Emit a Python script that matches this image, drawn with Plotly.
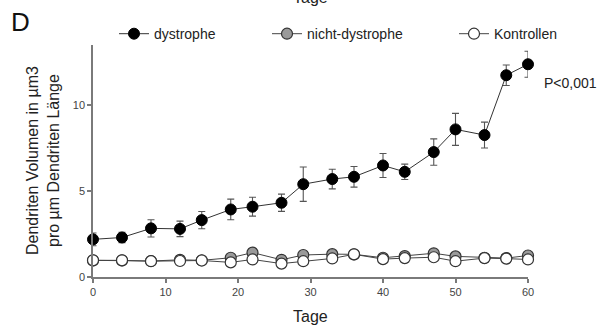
import plotly.graph_objects as go

# Days of measurement
tage = [0, 4, 8, 12, 15, 19, 22, 26, 29, 33, 36, 40, 43, 47, 50, 54, 57, 60]

# Dendrite volume per dendrite length (µm3 / µm)
dystrophe = [2.19, 2.30, 2.83, 2.80, 3.31, 3.93, 4.09, 4.32, 5.40, 5.70,
             5.83, 6.49, 6.12, 7.27, 8.59, 8.26, 11.74, 12.38]
dystrophe_err = [0.37, 0.30, 0.50, 0.45, 0.50, 0.60, 0.55, 0.50, 1.00, 0.57,
                 0.60, 0.70, 0.45, 0.77, 0.93, 0.75, 0.60, 0.76]
nicht_dystrophe = [0.97, 0.97, 0.93, 1.00, 0.97, 1.12, 1.42, 1.00, 1.28, 1.33,
                   1.32, 1.12, 1.22, 1.38, 1.20, 1.12, 1.10, 1.25]
kontrollen = [0.97, 0.97, 0.92, 0.93, 0.96, 0.85, 1.02, 0.78, 0.92, 1.08,
              1.32, 1.04, 1.10, 1.15, 0.92, 1.10, 1.07, 1.02]

x_ticks = [0, 10, 20, 30, 40, 50, 60]
y_ticks = [0, 5, 10]

FONT = "Liberation Sans, Arial, sans-serif"
AXIS_COLOR = "#7a7a7a"

fig = go.Figure()

fig.add_trace(go.Scatter(
    x=tage, y=nicht_dystrophe, name="nicht-dystrophe", mode="lines+markers",
    line=dict(color="#444444", width=1),
    marker=dict(size=11, color="#9a9a9a", line=dict(color="#333333", width=1.2)),
    cliponaxis=False, legend="legend2", showlegend=True,
))
fig.add_trace(go.Scatter(
    x=tage, y=kontrollen, name="Kontrollen", mode="lines+markers",
    line=dict(color="#444444", width=1),
    marker=dict(size=11, color="white", line=dict(color="#333333", width=1.2)),
    cliponaxis=False, legend="legend3", showlegend=True,
))
fig.add_trace(go.Scatter(
    x=tage, y=dystrophe, name="dystrophe", mode="lines+markers",
    line=dict(color="#333333", width=1),
    marker=dict(size=11, color="black", line=dict(color="black", width=1)),
    error_y=dict(type="data", array=dystrophe_err, color="#555555",
                 thickness=1.1, width=3.5),
    cliponaxis=False, legend="legend", showlegend=True,
))

legend_common = dict(orientation="h", yanchor="middle", y=1.047,
                     xanchor="left", bgcolor="rgba(0,0,0,0)",
                     font=dict(family=FONT, size=14, color="#222222"))

fig.update_layout(
    width=605, height=330,
    showlegend=True,
    margin=dict(l=93, r=77, t=45, b=53),
    paper_bgcolor="white", plot_bgcolor="white",
    font=dict(family=FONT, color="#222222"),
    legend=dict(x=(114 - 93) / 435, **legend_common),
    legend2=dict(x=(267 - 93) / 435, **legend_common),
    legend3=dict(x=(454 - 93) / 435, **legend_common),
    xaxis=dict(
        range=[0, 60], tickvals=x_ticks, ticktext=[str(v) for v in x_ticks],
        showline=True, linecolor=AXIS_COLOR, linewidth=1.5,
        ticks="outside", ticklen=4, tickcolor=AXIS_COLOR, tickwidth=1.5,
        showgrid=False, zeroline=False,
        tickfont=dict(family=FONT, size=11, color="#444444"),
    ),
    yaxis=dict(
        range=[0, 13.5], tickvals=y_ticks, ticktext=[str(v) for v in y_ticks],
        showline=True, linecolor=AXIS_COLOR, linewidth=1.5,
        ticks="outside", ticklen=4, tickcolor=AXIS_COLOR, tickwidth=1.5,
        showgrid=False, zeroline=False,
        tickfont=dict(family=FONT, size=11, color="#444444"),
    ),
    annotations=[
        dict(text="Tage", xref="paper", yref="paper", x=0.5, y=-0.172,
             xanchor="center", yanchor="middle", showarrow=False,
             font=dict(family=FONT, size=16, color="#222222")),
        dict(text="Tage", xref="paper", yref="paper", x=0.5, y=1.205,
             xanchor="center", yanchor="middle", showarrow=False,
             font=dict(family=FONT, size=16, color="#222222")),
        dict(text="Dendriten Volumen in µm3<br>pro µm Dendriten Länge",
             xref="paper", yref="paper", x=(43 - 93) / 435, y=0.5,
             xanchor="center", yanchor="middle", textangle=-90,
             showarrow=False,
             font=dict(family=FONT, size=16, color="#222222")),
        dict(text="D", xref="paper", yref="paper", x=(20 - 93) / 435,
             y=(277 - 22) / 232, xanchor="center", yanchor="middle",
             showarrow=False, font=dict(family=FONT, size=26, color="#111111")),
        dict(text="P<0,001", xref="paper", yref="paper", x=(542 - 93) / 435,
             y=(277 - 83) / 232, xanchor="left", yanchor="middle",
             showarrow=False, font=dict(family=FONT, size=14, color="#222222")),
    ],
)

fig.write_html("out.html")
